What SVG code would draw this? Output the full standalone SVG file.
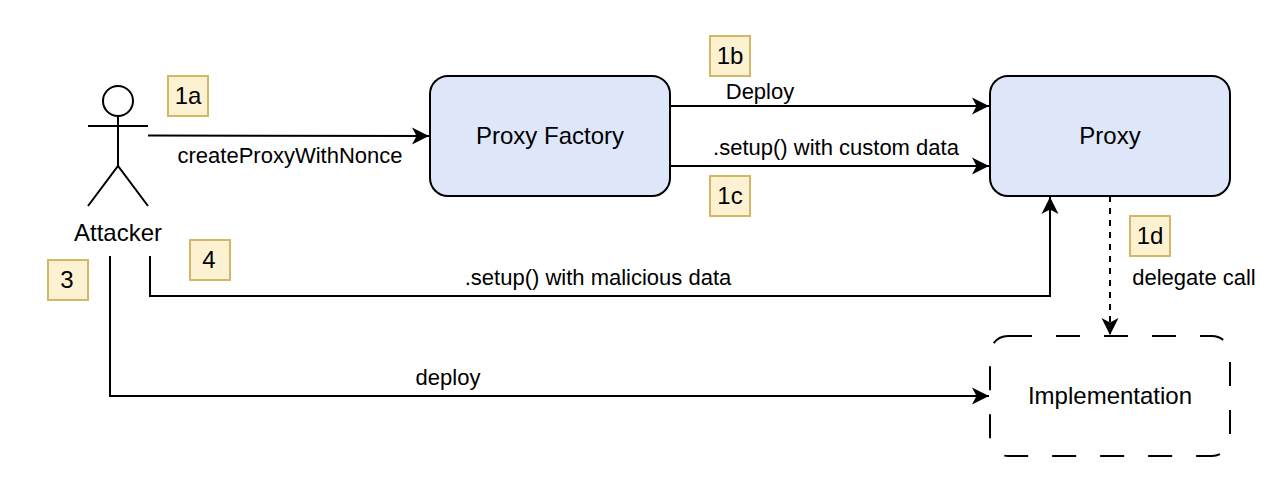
<svg xmlns="http://www.w3.org/2000/svg" width="1270" height="480" viewBox="0 0 1270 480">
<style>
text{font-family:"Liberation Sans",Arial,sans-serif;fill:#000;text-anchor:middle}
.lbl{font-size:24px}
.el{font-size:22px}
.box{fill:#dde7f9;stroke:#000;stroke-width:2}
.tag{fill:#fcf2d1;stroke:#d4b766;stroke-width:2}
.c{fill:none;stroke:#000;stroke-width:2}
</style>
<defs>
<marker id="a" markerUnits="userSpaceOnUse" markerWidth="20" markerHeight="20" refX="18" refY="9" orient="auto" overflow="visible">
<path d="M1 0.500L18 9L1 17.500L5.500 9Z" fill="#000"/>
</marker>
</defs>
<rect width="1270" height="480" fill="#fff"/>
<g id="connectors">
<path class="c" marker-end="url(#a)" d="M148 135.500L429 136"/>
<path class="c" marker-end="url(#a)" d="M670 106H989"/>
<path class="c" marker-end="url(#a)" d="M670 166H989"/>
<path class="c" marker-end="url(#a)" d="M150 256V296H1050V197"/>
<path class="c" marker-end="url(#a)" d="M110 256V396H989"/>
<path class="c" stroke-dasharray="6 6" marker-end="url(#a)" d="M1110 196V335"/>
</g>
<g id="attacker">
<circle cx="118" cy="101" r="15" fill="#fff" stroke="#000" stroke-width="2"/>
<path class="c" d="M118 116V166M88 126H148M88 206L118 166L148 206"/>
<text class="lbl" x="118" y="241">Attacker</text>
</g>
<g id="proxy-factory">
<rect class="box" x="430" y="76" width="240" height="120" rx="18"/>
<text class="lbl" x="550" y="144">Proxy Factory</text>
</g>
<g id="proxy">
<rect class="box" x="990" y="76" width="240" height="120" rx="18"/>
<text class="lbl" x="1110" y="144">Proxy</text>
</g>
<g id="implementation">
<rect x="990" y="336" width="240" height="120" rx="18" fill="none" stroke="#000" stroke-width="2" stroke-dasharray="24 24"/>
<text class="lbl" x="1110" y="404">Implementation</text>
</g>
<g id="tag-1a"><rect class="tag" x="168" y="76" width="40" height="40"/><text class="lbl" x="188" y="104">1a</text></g>
<g id="tag-1b"><rect class="tag" x="710" y="36" width="40" height="40"/><text class="lbl" x="730" y="64">1b</text></g>
<g id="tag-1c"><rect class="tag" x="710" y="176" width="40" height="40"/><text class="lbl" x="730" y="204">1c</text></g>
<g id="tag-1d"><rect class="tag" x="1130" y="216" width="40" height="40"/><text class="lbl" x="1150" y="244">1d</text></g>
<g id="tag-3"><rect class="tag" x="48" y="260" width="40" height="40"/><text class="lbl" x="67" y="288">3</text></g>
<g id="tag-4"><rect class="tag" x="190" y="240" width="40" height="40"/><text class="lbl" x="209" y="268">4</text></g>
<g id="labels">
<text class="el" x="290" y="163">createProxyWithNonce</text>
<text class="el" x="760" y="99">Deploy</text>
<text class="el" x="836" y="155">.setup() with custom data</text>
<text class="el" x="598" y="285">.setup() with malicious data</text>
<text class="el" x="448" y="385">deploy</text>
<text class="el" x="1194" y="285">delegate call</text>
</g>
</svg>
